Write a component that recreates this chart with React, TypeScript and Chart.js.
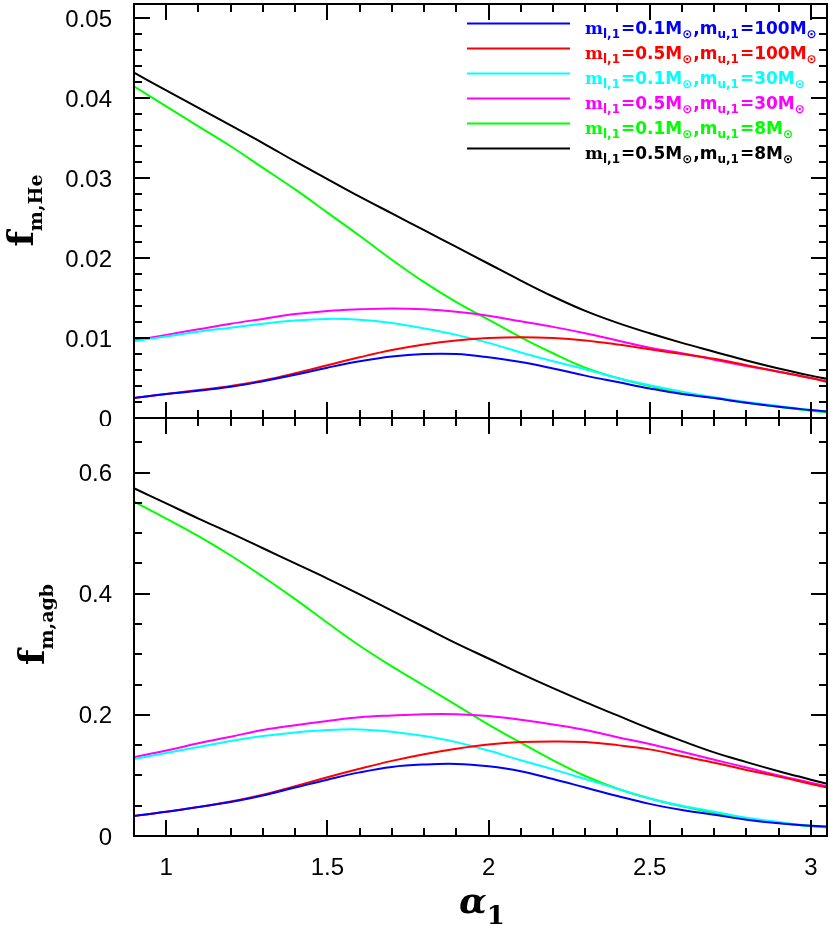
import React, { useEffect, useRef } from "react";
import { Chart, registerables } from "chart.js";

Chart.register(...registerables);

// ---------- data ----------
const ALPHA_1 = [0.9, 1.0, 1.1, 1.2, 1.3, 1.4, 1.5, 1.6, 1.7, 1.8, 1.9, 2.0, 2.1, 2.2, 2.3, 2.4, 2.5, 2.6, 2.7, 2.8, 2.9, 3.0, 3.05];

// f_m,He (top panel)
const HE_L01_U100 = [0.0025, 0.0030, 0.0034, 0.0039, 0.0046, 0.0054, 0.0063, 0.0071, 0.0077, 0.0080, 0.0080, 0.0076, 0.0070, 0.0062, 0.0053, 0.0045, 0.0037, 0.0030, 0.0025, 0.0019, 0.0014, 0.0010, 0.0008];
const HE_L05_U100 = [0.0025, 0.0030, 0.0035, 0.0040, 0.0047, 0.0056, 0.0066, 0.0076, 0.0085, 0.0092, 0.0097, 0.0100, 0.0101, 0.0100, 0.0097, 0.0092, 0.0086, 0.0080, 0.0074, 0.0066, 0.0058, 0.0050, 0.0045];
const HE_L01_U30 = [0.0096, 0.0102, 0.0108, 0.0113, 0.0118, 0.0122, 0.0124, 0.0123, 0.0119, 0.0112, 0.0104, 0.0094, 0.0082, 0.0071, 0.0061, 0.0050, 0.0041, 0.0033, 0.0026, 0.0020, 0.0015, 0.0010, 0.0008];
const HE_L05_U30 = [0.0097, 0.0104, 0.0111, 0.0118, 0.0124, 0.0130, 0.0134, 0.0136, 0.0137, 0.0136, 0.0133, 0.0128, 0.0121, 0.0114, 0.0106, 0.0097, 0.0088, 0.0081, 0.0073, 0.0065, 0.0058, 0.0050, 0.0046];
const HE_L01_U8 = [0.0415, 0.0390, 0.0365, 0.0340, 0.0313, 0.0286, 0.0257, 0.0228, 0.0198, 0.0170, 0.0145, 0.0123, 0.0101, 0.0081, 0.0063, 0.0050, 0.0040, 0.0031, 0.0025, 0.0019, 0.0014, 0.0009, 0.0007];
const HE_L05_U8 = [0.0432, 0.0410, 0.0388, 0.0366, 0.0344, 0.0321, 0.0299, 0.0277, 0.0256, 0.0235, 0.0214, 0.0193, 0.0172, 0.0152, 0.0134, 0.0119, 0.0106, 0.0094, 0.0083, 0.0072, 0.0062, 0.0053, 0.0049];

// f_m,agb (bottom panel)
const AGB_L01_U100 = [0.033, 0.040, 0.048, 0.056, 0.067, 0.080, 0.093, 0.105, 0.114, 0.118, 0.119, 0.115, 0.107, 0.094, 0.080, 0.066, 0.053, 0.043, 0.035, 0.027, 0.021, 0.017, 0.0155];
const AGB_L05_U100 = [0.033, 0.040, 0.048, 0.057, 0.068, 0.082, 0.097, 0.111, 0.124, 0.135, 0.144, 0.151, 0.155, 0.156, 0.155, 0.150, 0.143, 0.132, 0.121, 0.109, 0.098, 0.086, 0.080];
const AGB_L01_U30 = [0.127, 0.137, 0.147, 0.157, 0.165, 0.171, 0.175, 0.176, 0.172, 0.165, 0.155, 0.141, 0.125, 0.110, 0.094, 0.078, 0.062, 0.050, 0.040, 0.030, 0.023, 0.017, 0.0155];
const AGB_L05_U30 = [0.130, 0.141, 0.153, 0.164, 0.175, 0.183, 0.190, 0.196, 0.199, 0.201, 0.201, 0.198, 0.192, 0.184, 0.175, 0.163, 0.152, 0.139, 0.126, 0.113, 0.100, 0.088, 0.082];
const AGB_L01_U8 = [0.552, 0.524, 0.495, 0.463, 0.428, 0.391, 0.352, 0.314, 0.280, 0.248, 0.216, 0.184, 0.154, 0.125, 0.099, 0.078, 0.062, 0.049, 0.038, 0.029, 0.022, 0.016, 0.014];
const AGB_L05_U8 = [0.574, 0.549, 0.524, 0.500, 0.475, 0.450, 0.425, 0.399, 0.372, 0.345, 0.318, 0.293, 0.268, 0.244, 0.221, 0.199, 0.177, 0.157, 0.138, 0.122, 0.107, 0.093, 0.086];

const SERIES_COLORS = ["#0000ff", "#ff0000", "#00ffff", "#ff00ff", "#00ff00", "#000000"];

// legend labels: alternating [main, subscript, main, subscript, ...]
const LEGEND_LABELS = [
  ["m", "l,1", "=0.1M", "\u2299", ",m", "u,1", "=100M", "\u2299"],
  ["m", "l,1", "=0.5M", "\u2299", ",m", "u,1", "=100M", "\u2299"],
  ["m", "l,1", "=0.1M", "\u2299", ",m", "u,1", "=30M", "\u2299"],
  ["m", "l,1", "=0.5M", "\u2299", ",m", "u,1", "=30M", "\u2299"],
  ["m", "l,1", "=0.1M", "\u2299", ",m", "u,1", "=8M", "\u2299"],
  ["m", "l,1", "=0.5M", "\u2299", ",m", "u,1", "=8M", "\u2299"],
];

// axes
const X_MIN = 0.9;
const X_MAX = 3.05;
const X_TICKS = [1, 1.5, 2, 2.5, 3];
const X_TICK_LABELS = ["1", "1.5", "2", "2.5", "3"];
const X_MINOR_STEP = 0.1;

const TOP_Y_MAX = 0.0518;
const TOP_Y_TICKS = [0, 0.01, 0.02, 0.03, 0.04, 0.05];
const TOP_Y_LABELS = ["0", "0.01", "0.02", "0.03", "0.04", "0.05"];
const TOP_Y_MINOR_STEP = 0.002;

const BOT_Y_MAX = 0.69;
const BOT_Y_TICKS = [0, 0.2, 0.4, 0.6];
const BOT_Y_LABELS = ["0", "0.2", "0.4", "0.6"];
const BOT_Y_MINOR_STEP = 0.05;

const X_TITLE = ["\u03b1", "1"];
const TOP_Y_TITLE = ["f", "m,He"];
const BOT_Y_TITLE = ["f", "m,agb"];

// ---------- helpers ----------
function steps(min: number, max: number, step: number): number[] {
  const out: number[] = [];
  const n = Math.round((max - min) / step);
  for (let i = 0; i <= n; i++) out.push(Math.round((min + i * step) * 1e6) / 1e6);
  return out;
}

function drawRich(
  ctx: CanvasRenderingContext2D,
  x: number,
  y: number,
  segs: string[],
  mainFonts: string[] | string,
  subFont: string,
  subDy: number,
  measureOnly = false
): number {
  let cx = x;
  segs.forEach((s, i) => {
    const isSub = i % 2 === 1;
    const mf = Array.isArray(mainFonts) ? mainFonts[Math.floor(i / 2) % mainFonts.length] : mainFonts;
    ctx.font = isSub ? subFont : mf;
    if (!measureOnly) ctx.fillText(s, cx, y + (isSub ? subDy : 0));
    cx += ctx.measureText(s).width + (isSub ? 1 : 0);
  });
  return cx - x;
}

const TICK_FONT = { family: "'Liberation Sans', Arial, sans-serif", size: 24 };
const LEGEND_MAIN_FONTS = [
  "bold 17px 'DejaVu Serif', serif",
  "bold 17px 'DejaVu Sans', sans-serif",
  "bold 17px 'DejaVu Sans', sans-serif",
  "bold 17px 'DejaVu Sans', sans-serif",
];
const LEGEND_SUB_FONT = "bold 12px 'DejaVu Sans', sans-serif";

function zeroPadding(s: any) {
  s.paddingTop = 0;
  s.paddingBottom = 0;
  s.paddingLeft = 0;
  s.paddingRight = 0;
}

function makePanelPlugin(opts: {
  yMajor: number[];
  yMinorStep: number;
  yMax: number;
  yTitle: string[];
  yTitleX: number;
  yTitleY: number;
  legend: boolean;
  xTitle: boolean;
}) {
  return {
    id: "panelFrame",
    afterDatasetsDraw(chart: any) {
      const { ctx, chartArea: a, scales } = chart;
      const xs = scales.x;
      const ys = scales.y;
      ctx.save();
      ctx.strokeStyle = "#000";
      ctx.lineWidth = 2;
      ctx.lineCap = "butt";
      ctx.strokeRect(a.left, a.top, a.right - a.left, a.bottom - a.top);

      ctx.beginPath();
      const xAll = steps(X_MIN, X_MAX, X_MINOR_STEP);
      const isMajorX = (v: number) => X_TICKS.some((t) => Math.abs(t - v) < 1e-6);
      xAll.forEach((v) => {
        const px = Math.round(xs.getPixelForValue(v));
        if (px <= a.left + 2 || px >= a.right - 2) return;
        const len = isMajorX(v) ? 16 : 8;
        ctx.moveTo(px, a.top);
        ctx.lineTo(px, a.top + len);
        ctx.moveTo(px, a.bottom);
        ctx.lineTo(px, a.bottom - len);
      });
      const yAll = steps(0, opts.yMax, opts.yMinorStep);
      const isMajorY = (v: number) => opts.yMajor.some((t) => Math.abs(t - v) < 1e-7);
      yAll.forEach((v) => {
        const py = Math.round(ys.getPixelForValue(v));
        if (py >= a.bottom - 2 || py <= a.top + 2) return;
        const len = isMajorY(v) ? 16 : 8;
        ctx.moveTo(a.left, py);
        ctx.lineTo(a.left + len, py);
        ctx.moveTo(a.right, py);
        ctx.lineTo(a.right - len, py);
      });
      ctx.stroke();
      ctx.restore();
    },
    afterDraw(chart: any) {
      const { ctx, chartArea: a } = chart;
      ctx.save();
      ctx.fillStyle = "#000";
      ctx.textBaseline = "alphabetic";
      ctx.textAlign = "left";

      // y-axis title (rotated)
      ctx.save();
      ctx.translate(opts.yTitleX, opts.yTitleY);
      ctx.rotate(-Math.PI / 2);
      const yMain = "bold 36px 'DejaVu Serif', serif";
      const ySub = "bold 19px 'DejaVu Serif', serif";
      const wy = drawRich(ctx, 0, 0, opts.yTitle, yMain, ySub, 9, true);
      drawRich(ctx, -wy / 2, 0, opts.yTitle, yMain, ySub, 9);
      ctx.restore();

      if (opts.xTitle) {
        const xMain = "bold italic 36px 'DejaVu Serif', serif";
        const xSub = "bold 26px 'DejaVu Serif', serif";
        const wx = drawRich(ctx, 0, 0, X_TITLE, xMain, xSub, 11, true);
        const cx = (a.left + a.right) / 2 + 2;
        drawRich(ctx, cx - wx / 2, a.bottom + 77, X_TITLE, xMain, xSub, 11);
      }

      if (opts.legend) {
        const lineX0 = 467;
        const lineX1 = 570;
        const textX = 585;
        const row0 = 23.5;
        const rowH = 25;
        LEGEND_LABELS.forEach((segs, i) => {
          const y = row0 + i * rowH;
          ctx.strokeStyle = SERIES_COLORS[i];
          ctx.lineWidth = 2;
          ctx.beginPath();
          ctx.moveTo(lineX0, y);
          ctx.lineTo(lineX1, y);
          ctx.stroke();
          ctx.fillStyle = SERIES_COLORS[i];
          drawRich(ctx, textX, y + 10, segs, LEGEND_MAIN_FONTS, LEGEND_SUB_FONT, 4.5);
        });
      }
      ctx.restore();
    },
  };
}

function buildDatasets(series: number[][]) {
  return series.map((arr, i) => ({
    data: ALPHA_1.map((x, j) => ({ x, y: arr[j] })),
    borderColor: SERIES_COLORS[i],
    backgroundColor: SERIES_COLORS[i],
    borderWidth: 2,
    pointRadius: 0,
    tension: 0.4,
    fill: false,
  }));
}

function makeConfig(panel: "top" | "bottom"): any {
  const isTop = panel === "top";
  const series = isTop
    ? [HE_L01_U100, HE_L05_U100, HE_L01_U30, HE_L05_U30, HE_L01_U8, HE_L05_U8]
    : [AGB_L01_U100, AGB_L05_U100, AGB_L01_U30, AGB_L05_U30, AGB_L01_U8, AGB_L05_U8];
  const yTicks = isTop ? TOP_Y_TICKS : BOT_Y_TICKS;
  const yLabels = isTop ? TOP_Y_LABELS : BOT_Y_LABELS;
  return {
    type: "line",
    data: { datasets: buildDatasets(series) },
    options: {
      responsive: false,
      maintainAspectRatio: false,
      animation: false,
      devicePixelRatio: 1,
      layout: { padding: { left: 0, right: 3, top: 4, bottom: isTop ? 8 : 0 } },
      plugins: { legend: { display: false }, title: { display: false }, tooltip: { enabled: false } },
      events: [],
      scales: {
        x: {
          type: "linear",
          min: X_MIN,
          max: X_MAX,
          display: !isTop,
          afterBuildTicks: (s: any) => {
            s.ticks = X_TICKS.map((v) => ({ value: v }));
          },
          afterFit: (s: any) => {
            s.height = isTop ? 0 : 90;
            zeroPadding(s);
          },
          ticks: {
            callback: (_v: any, i: number) => X_TICK_LABELS[i],
            font: TICK_FONT,
            color: "#000",
            padding: 18,
            maxRotation: 0,
            autoSkip: false,
          },
          grid: { display: false, drawTicks: false },
          border: { display: false },
        },
        y: {
          type: "linear",
          min: 0,
          max: isTop ? TOP_Y_MAX : BOT_Y_MAX,
          afterBuildTicks: (s: any) => {
            s.ticks = yTicks.map((v) => ({ value: v }));
          },
          afterFit: (s: any) => {
            s.width = 134;
            zeroPadding(s);
          },
          ticks: {
            callback: (_v: any, i: number) => yLabels[i],
            font: TICK_FONT,
            color: "#000",
            padding: 22,
            labelOffset: 2,
            autoSkip: false,
          },
          grid: { display: false, drawTicks: false },
          border: { display: false },
        },
      },
    },
    plugins: [
      makePanelPlugin({
        yMajor: yTicks,
        yMinorStep: isTop ? TOP_Y_MINOR_STEP : BOT_Y_MINOR_STEP,
        yMax: isTop ? TOP_Y_MAX : BOT_Y_MAX,
        yTitle: isTop ? TOP_Y_TITLE : BOT_Y_TITLE,
        yTitleX: isTop ? 33 : 44,
        yTitleY: isTop ? 210 : 624 - 414,
        legend: isTop,
        xTitle: !isTop,
      }),
    ],
  };
}

export default function App() {
  const topRef = useRef<HTMLCanvasElement>(null);
  const botRef = useRef<HTMLCanvasElement>(null);

  useEffect(() => {
    if (!topRef.current || !botRef.current) return;
    const c1 = new Chart(topRef.current, makeConfig("top"));
    const c2 = new Chart(botRef.current, makeConfig("bottom"));
    return () => {
      c1.destroy();
      c2.destroy();
    };
  }, []);

  return (
    <div style={{ position: "absolute", left: 0, top: 0, width: 830, height: 926, background: "#fff", overflow: "hidden" }}>
      <canvas ref={topRef} width={830} height={426} style={{ position: "absolute", left: 0, top: 0, width: 830, height: 426 }} />
      <canvas ref={botRef} width={830} height={512} style={{ position: "absolute", left: 0, top: 414, width: 830, height: 512 }} />
    </div>
  );
}
